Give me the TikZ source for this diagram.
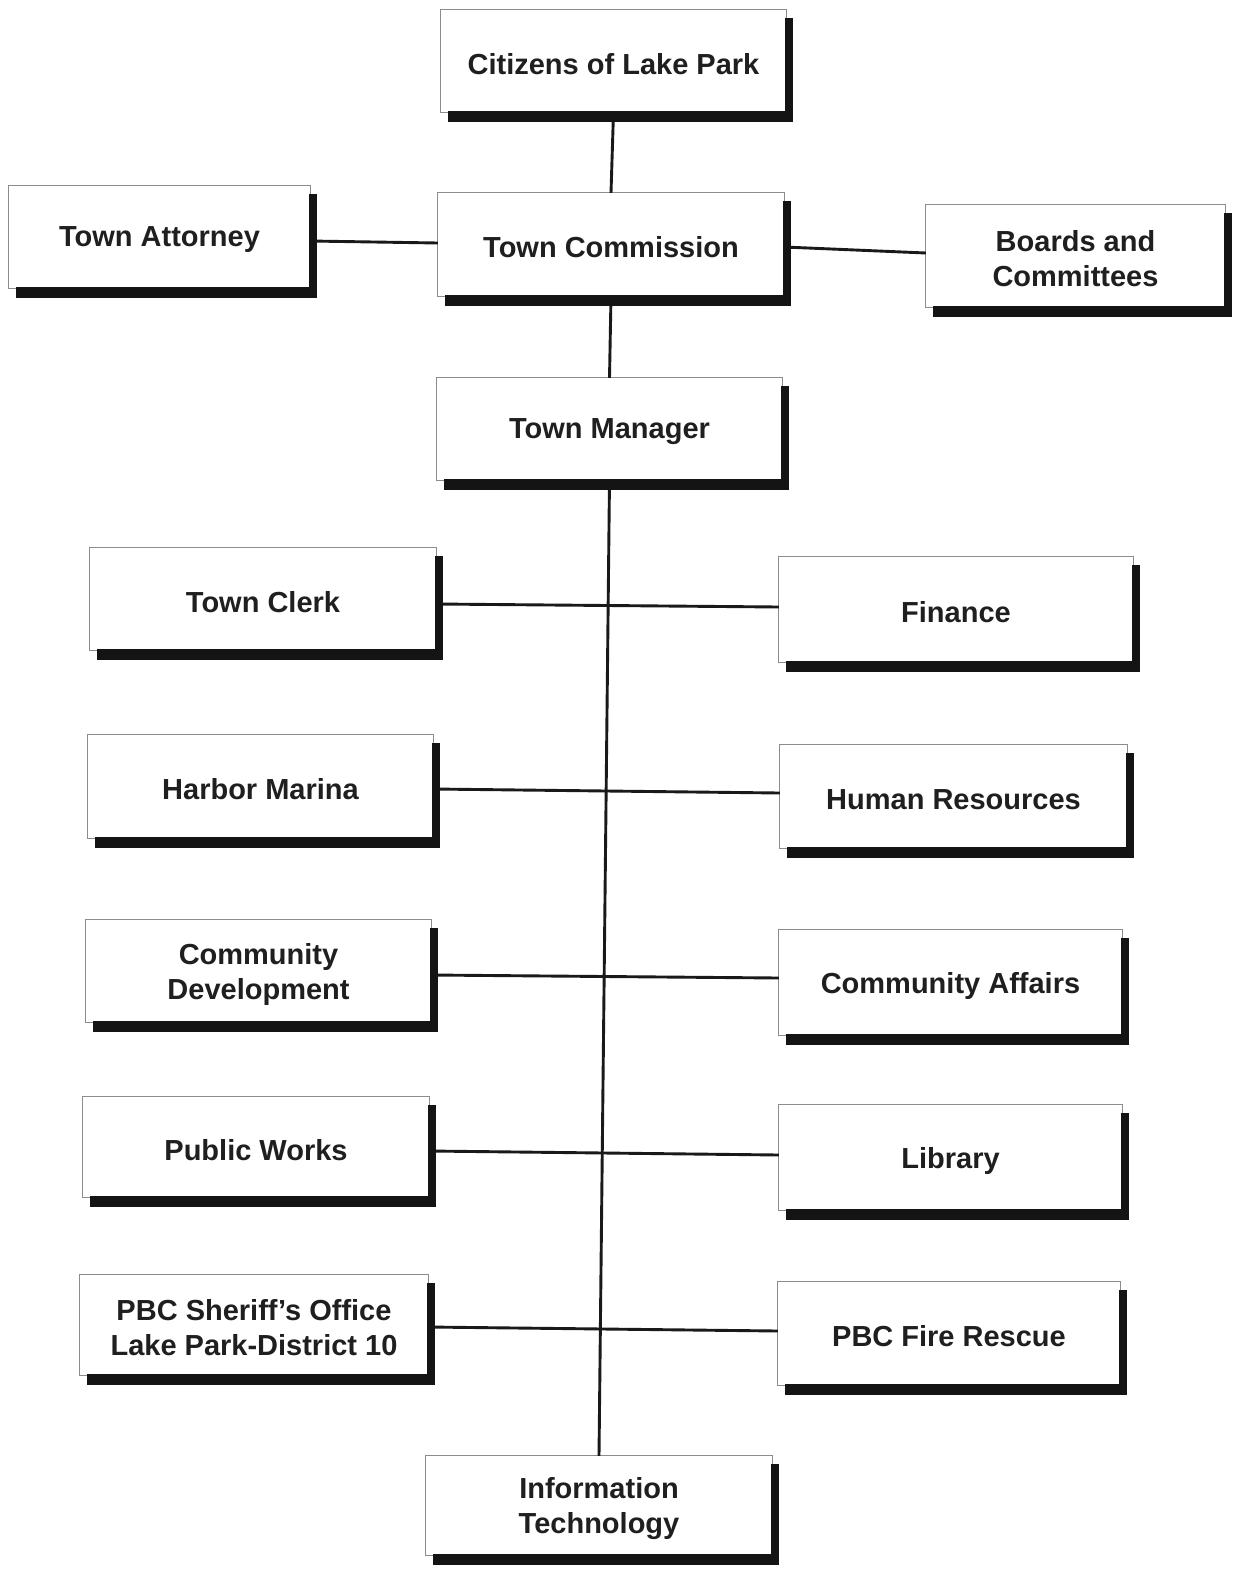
\documentclass[tikz,border=0pt]{standalone}
\usepackage{fontspec}
\setmainfont{Liberation Sans}
\usetikzlibrary{calc}
\begin{document}
\begin{tikzpicture}[x=1pt,y=-1pt,
  boxtext/.style={font=\bfseries\fontsize{29}{35}\selectfont, align=center, text=black!88},
  conn/.style={line width=2.9pt, black!90},
  thinedge/.style={draw=black!45, line width=1.1pt},
  shade/.style={fill=black!92}]
\useasboundingbox (0,0) rectangle (1241,1572);
\fill[white] (0,0) rectangle (1241,1572);
% boxes: \bx{name}{l}{t}{r}{b}{text}
\newcommand\bx[6]{%
  \node[boxtext, inner sep=0pt, minimum width={#4-#2}, minimum height={#5-#3}] (#1) at ({(#2+#4)/2},{(#3+#5)/2}) {};
  \node[boxtext] (#1-t) at ($(#1)+(0,3)$) {#6};}
\bx{cit}{441}{10}{786}{112}{Citizens of Lake Park}
\bx{att}{9}{186}{310}{288}{Town Attorney}
\bx{com}{438}{193}{784}{296}{Town Commission}
\bx{bc}{926}{205}{1225}{307}{Boards and\\Committees}
\bx{tm}{437}{378}{782}{480}{Town Manager}
\bx{clk}{90}{548}{436}{650}{Town Clerk}
\bx{fin}{779}{557}{1133}{662}{Finance}
\bx{hm}{88}{735}{433}{838}{Harbor Marina}
\bx{hr}{780}{745}{1127}{848}{Human Resources}
\bx{cd}{86}{920}{431}{1022}{Community\\Development}
\bx{ca}{779}{930}{1122}{1035}{Community Affairs}
\bx{pw}{83}{1097}{429}{1197}{Public Works}
\bx{lib}{779}{1105}{1122}{1210}{Library}
\bx{sh}{80}{1275}{428}{1375}{PBC Sheriff's Office\\Lake Park-District 10}
\bx{fr}{778}{1282}{1120}{1385}{PBC Fire Rescue}
\bx{it}{426}{1456}{772}{1555}{Information\\Technology}
% thin outlines
\foreach \n in {cit,att,com,bc,tm,clk,fin,hm,hr,cd,ca,pw,lib,sh,fr,it}{
  \draw[thinedge] (\n.south west) rectangle (\n.north east);
}
% connectors
\draw[conn] (cit.south) -- (com.north);
\draw[conn] (com.south) -- (tm.north);
\draw[conn] ($(att.east)+(0,4)$) -- ($(com.west)+(0,-1.5)$);
\draw[conn] ($(com.east)+(0,2.5)$) -- ($(bc.west)+(0,-3)$);
\draw[conn] (tm.south) -- (it.north);
\draw[conn] ($(clk.east)+(0,5)$) -- ($(fin.west)+(0,-2.5)$);
\draw[conn] ($(hm.east)+(0,2.5)$) -- ($(hr.west)+(0,-3.5)$);
\draw[conn] ($(cd.east)+(0,4)$) -- ($(ca.west)+(0,-4.5)$);
\draw[conn] ($(pw.east)+(0,4)$) -- ($(lib.west)+(0,-2.5)$);
\draw[conn] ($(sh.east)+(0,2)$) -- ($(fr.west)+(0,-2.5)$);
% shadows
\foreach \n in {cit,att,com,bc,tm,clk,fin,hm,hr,cd,ca,pw,lib,sh,fr,it}{
  \fill[shade] ($(\n.north east)+(-1,8)$) rectangle ($(\n.south east)+(7,10)$);
  \fill[shade] ($(\n.south west)+(7,-1)$) rectangle ($(\n.south east)+(7,10)$);
}
\end{tikzpicture}
\end{document}
